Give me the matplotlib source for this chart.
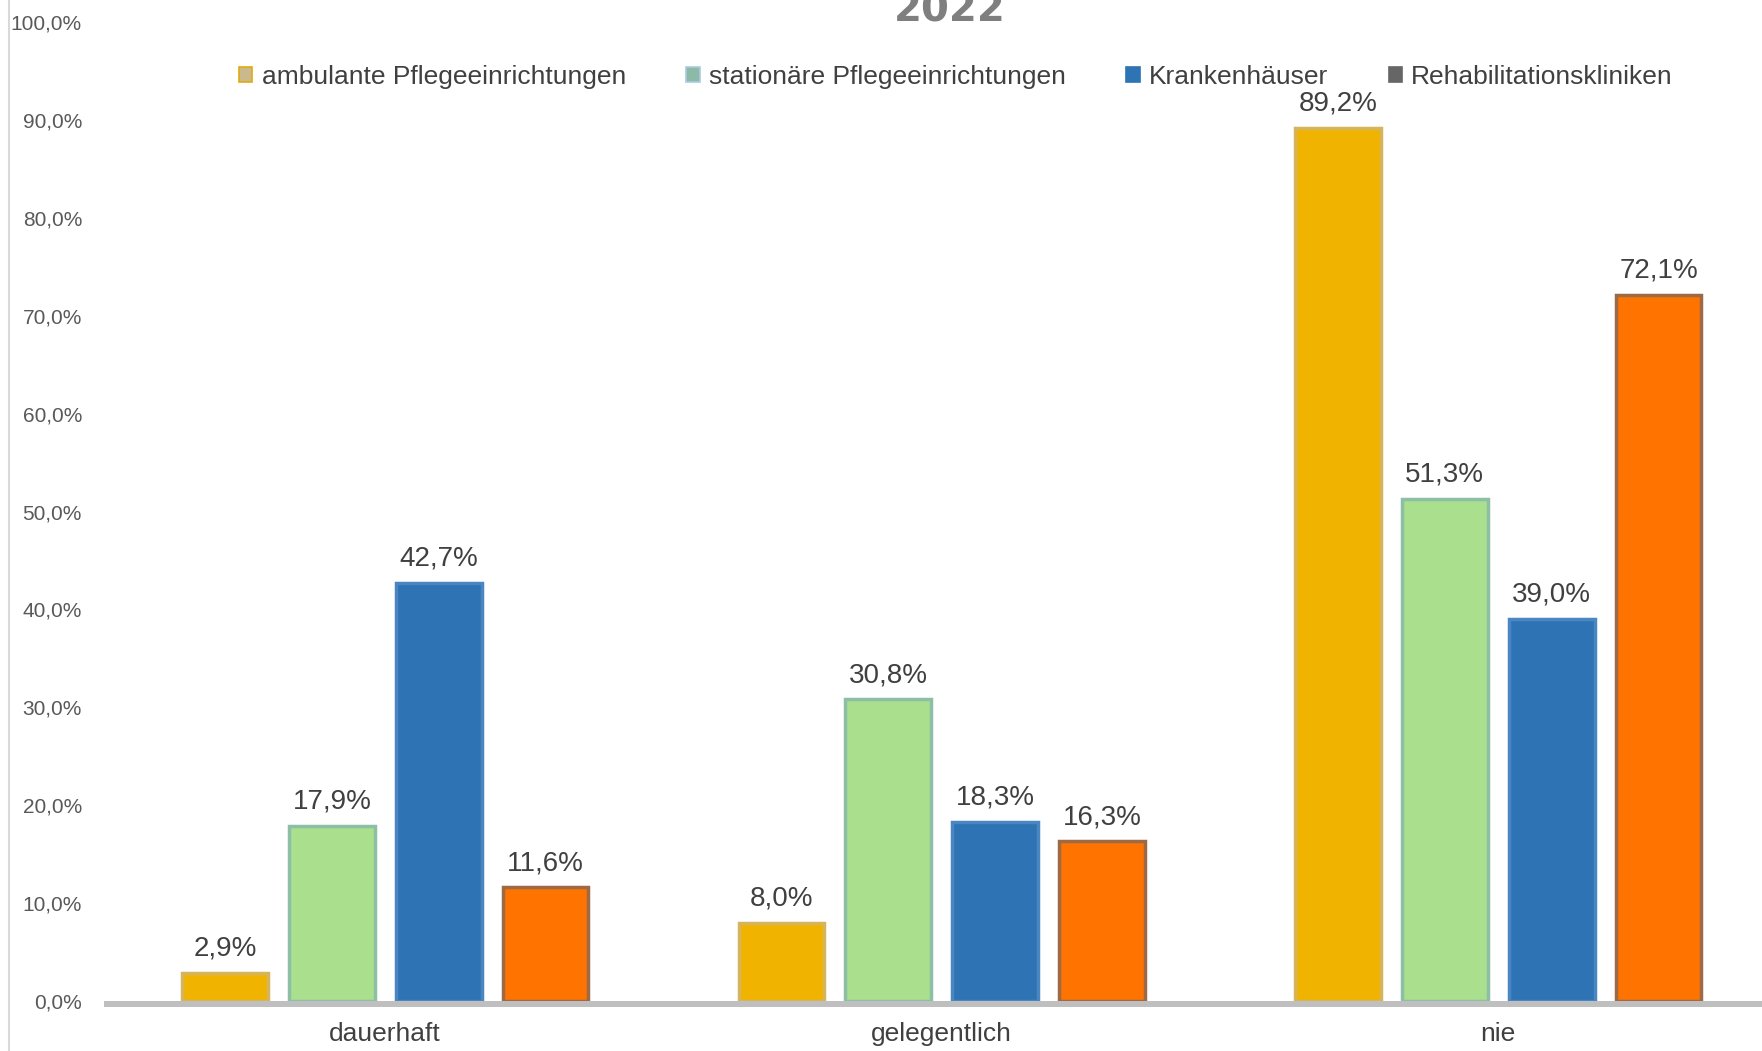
import matplotlib
matplotlib.use('Agg')
import matplotlib.pyplot as plt
import numpy as np
from matplotlib.patches import Patch
from matplotlib.lines import Line2D
from matplotlib.transforms import ScaledTranslation

plt.rcParams['font.family'] = ['Liberation Sans', 'DejaVu Sans']

title = '2022'
categories = ['dauerhaft', 'gelegentlich', 'nie']
series = ['ambulante Pflegeeinrichtungen', 'stationäre Pflegeeinrichtungen',
          'Krankenhäuser', 'Rehabilitationskliniken']
ambulant = [2.9, 8.0, 89.2]
stationaer = [17.9, 30.8, 51.3]
krankenhaus = [42.7, 18.3, 39.0]
reha = [11.6, 16.3, 72.1]
yticks = [0, 10, 20, 30, 40, 50, 60, 70, 80, 90, 100]

values = [ambulant, stationaer, krankenhaus, reha]
face = ['#F0B400', '#A9DF8D', '#2E73B4', '#FF7300']
edge = ['#D6B45C', '#8DBEA6', '#4A86C2', '#9C6A46']
leg_face = ['#C9B98C', '#8DB9A8', '#2E73B4', '#666666']
leg_edge = ['#E2AA10', '#A8CCE0', '#2E73B4', '#666666']

W, H = 1762, 1051
fig = plt.figure(figsize=(W / 100, H / 100), dpi=100)
ax = fig.add_axes([107 / W, 50 / H, 3 * 556.5 / W, 979 / H])

x = np.arange(len(categories))
step = 0.192
bw = 0.154
for i, vals in enumerate(values):
    xs = x + (i - 1.5) * step
    ax.bar(xs, vals, width=bw, color=face[i], edgecolor=edge[i], linewidth=2.5, zorder=3)
    for xx, v in zip(xs, vals):
        ax.annotate(f"{v:.1f}".replace('.', ',') + '%', (xx, v), xytext=(0, 12.5),
                    textcoords='offset points', ha='center', va='baseline',
                    fontsize=20, color='#404040')

ax.set_xlim(-0.5, 2.5)
ax.set_ylim(0, 100)
ax.set_yticks(yticks)
ax.set_yticklabels([f"{t:.1f}".replace('.', ',') + '%' for t in yticks])
ax.set_xticks(x)
ax.set_xticklabels(categories)
ax.tick_params(axis='y', length=0, pad=18, labelsize=15, labelcolor='#595959')
ax.tick_params(axis='x', length=0, pad=15, labelsize=19, labelcolor='#404040')
for s in ax.spines.values():
    s.set_visible(False)

off = ScaledTranslation(0, -3 / 100, fig.dpi_scale_trans)
ax.add_line(Line2D([0, 1], [0, 0], transform=ax.transAxes + off, color='#BFBFBF',
                   lw=4.3, clip_on=False, zorder=2))

fig.add_artist(Line2D([9 / W, 9 / W], [0, 1], transform=fig.transFigure,
                      color='#D9D9D9', lw=1.5))

fig.text(950 / W, 1 - 21 / H, title, ha='center', va='baseline', fontsize=29,
         fontweight='bold', color='#7F7F7F', family='DejaVu Sans')

handles = [Patch(facecolor=leg_face[i], edgecolor=leg_edge[i], linewidth=1.2, label=series[i])
           for i in range(4)]
fig.legend(handles=handles, loc='center', bbox_to_anchor=(956 / W, 1 - 77 / H), ncol=4,
           frameon=False, fontsize=19, handlelength=0.5, handleheight=0.5,
           handletextpad=0.35, columnspacing=2.3, labelcolor='#404040')

fig.savefig('out.png', dpi=100)
